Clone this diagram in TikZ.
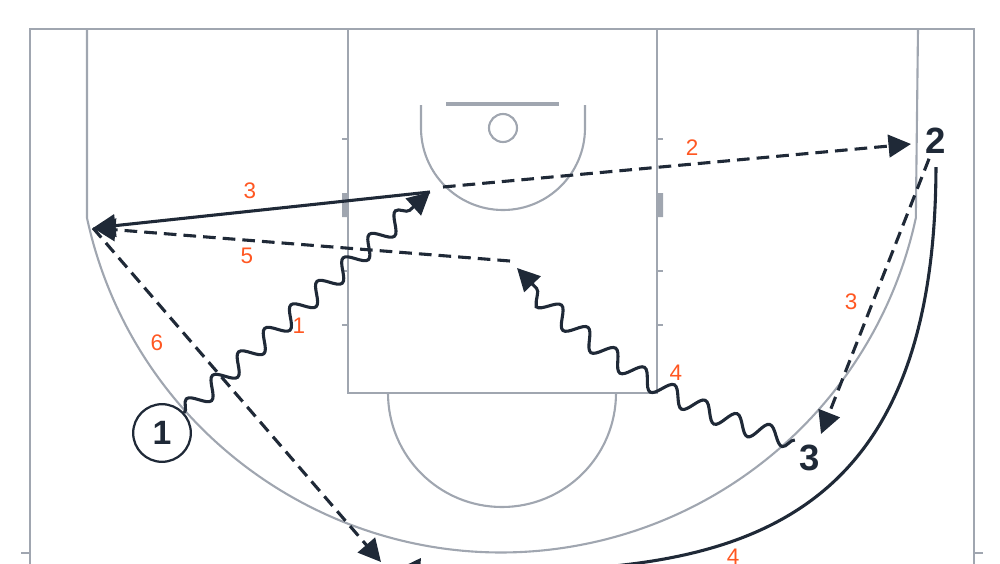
\documentclass[tikz,border=0pt]{standalone}
\usepackage{fontspec}
\setmainfont{Liberation Sans}
\usetikzlibrary{arrows.meta,decorations.pathmorphing}
\definecolor{courtgray}{RGB}{160,166,176}
\definecolor{ink}{RGB}{31,41,55}
\definecolor{numorange}{RGB}{255,87,34}

\begin{document}
\begin{tikzpicture}[x=0.25mm,y=-0.25mm,>={Triangle[length=16pt,width=16pt]}]
\tikzstyle{court}=[draw=courtgray,line width=1.5pt]
\tikzstyle{move}=[draw=ink,line width=2.2pt,->]
\tikzstyle{pass}=[move,dash pattern=on 9pt off 5pt]
\tikzstyle{dribble}=[move,decorate,decoration={snake,amplitude=6.5pt,segment length=25pt,post length=14pt}]
\tikzstyle{num}=[text=numorange,font=\fontsize{16}{16}\selectfont]
\tikzstyle{player}=[text=ink,font=\fontsize{26}{26}\selectfont\bfseries]
\useasboundingbox (0,0) rectangle (1000,563);

% half court
\draw[court] (30,590) -- (30,29) -- (974,29) -- (974,590);
\draw[court] (21,553) -- (30,553) (974,553) -- (983,553);
\draw[court] (87,29) -- (87,218) arc[start angle=167.8,end angle=12.2,radius=424] -- (918,29);
\draw[court] (348,29) -- (348,393) -- (657,393) -- (657,29);
\draw[court] (388,393) arc[start angle=180,end angle=0,radius=114];
\draw[court] (421,105) -- (421,128) arc[start angle=180,end angle=0,radius=82] -- (585,105);
\draw[court,line width=3pt] (446,104) -- (559,104);
\draw[court] (503,128) circle[radius=14];
\foreach \y in {139,271,325} {
  \draw[court] (342,\y) -- (348,\y) (657,\y) -- (663,\y);
}
\fill[courtgray] (342,193) rectangle (348,217) (657,193) rectangle (663,217);

% players
\node[player,circle,draw=ink,line width=1.6pt,minimum size=41pt,inner sep=0pt,font=\fontsize{24}{24}\selectfont\bfseries] (P1) at (162,433) {1};
\node[player] (P2) at (936,141) {2};
\node[player] (P3) at (810,458) {3};

\coordinate (wing) at (430,192);
\coordinate (wingpass) at (443,187);
\coordinate (corner) at (93,228);
\coordinate (elbow) at (517,268);
\coordinate (top) at (510,261);
\coordinate (base) at (381,562);
\coordinate (block) at (821,434);
\coordinate (out) at (398,569);

% actions
\draw[dribble] (P1) -- (wing);
\draw[pass] (wingpass) -- (911,144);
\draw[move] (wing) -- (corner);
\draw[pass] (P2) -- (block);
\draw[dribble] (P3.north west) .. controls (715,422) and (610,368) .. (elbow);
\draw[move,shorten <=6pt] (P2.south) .. controls (935,560) and (700,578) .. (out);
\draw[pass] (top) -- (corner);
\draw[pass] (corner) -- (base);

% order
\node[num] (n1) at (299,326) {1};
\node[num] (n2) at (692,148) {2};
\node[num] (n3a) at (250,191) {3};
\node[num] (n3b) at (851,302) {3};
\node[num] (n4a) at (676,373) {4};
\node[num] (n4b) at (733,557) {4};
\node[num] (n5) at (247,256) {5};
\node[num] (n6) at (157,343) {6};
\end{tikzpicture}
\end{document}
